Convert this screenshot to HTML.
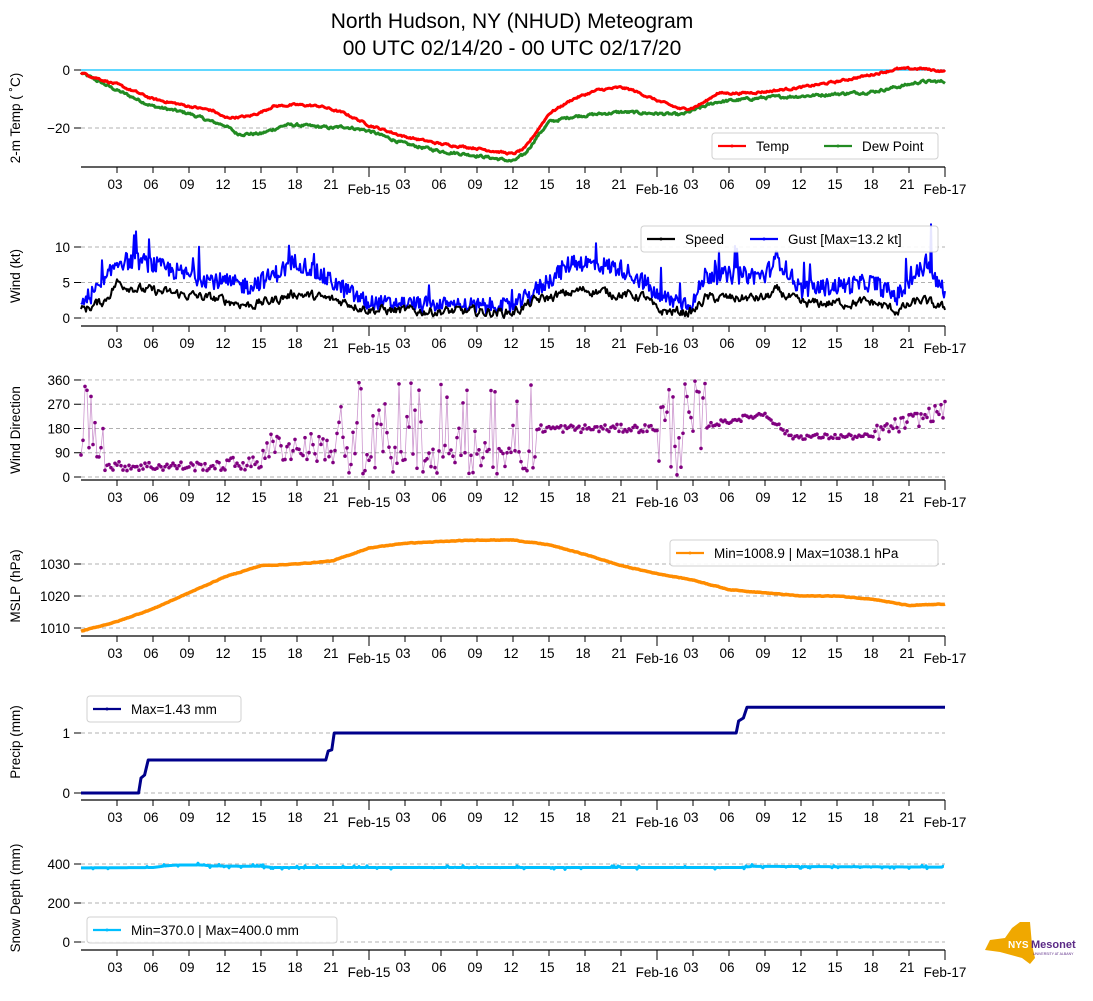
<!DOCTYPE html>
<html><head><meta charset="utf-8"><style>
body{margin:0;background:#fff;}
svg{display:block;font-family:"Liberation Sans","DejaVu Sans",sans-serif;}
</style></head><body>
<svg id="s" width="1093" height="1001" xmlns="http://www.w3.org/2000/svg">
<text x="512" y="28" font-size="21" text-anchor="middle">North Hudson, NY (NHUD) Meteogram</text>
<text x="512" y="55" font-size="21" text-anchor="middle">00 UTC 02/14/20 - 00 UTC 02/17/20</text>
</svg>
<script>
var S=document.getElementById('s'),NS='http://www.w3.org/2000/svg';
function el(t,a,txt){var e=document.createElementNS(NS,t);for(var k in a)e.setAttribute(k,a[k]);if(txt!=null)e.textContent=txt;S.appendChild(e);return e;}
var seed=12345;function rnd(){seed=(seed*1103515245+12345)%2147483648;return seed/2147483648;}
function X(h){return 81+h*12;}
function interp(kp,h){for(var i=1;i<kp.length;i++){if(h<=kp[i][0]){var a=kp[i-1],b=kp[i];return a[1]+(b[1]-a[1])*(h-a[0])/(b[0]-a[0]);}}return kp[kp.length-1][1];}
function series(kp,step,noise){var o=[];var n=0;for(var h=0;h<=72.001;h+=step){n=n*0.6+(rnd()-0.5)*noise;o.push([h,interp(kp,h)+n]);}return o;}
function line(pts,Y,col,w,op){var d='';pts.forEach(function(p,i){d+=(i?'L':'M')+X(p[0]).toFixed(1)+','+Y(p[1]).toFixed(1);});el('path',{d:d,fill:'none',stroke:col,'stroke-width':w,'stroke-linejoin':'round',opacity:op||1});}
function axis(yb,ticks,Y,label,ly){
 ticks.forEach(function(t){var y=Y(t);el('line',{x1:81,x2:945,y1:y,y2:y,stroke:'#b0b0b0','stroke-dasharray':'4,3','stroke-width':0.9});
  el('line',{x1:74,x2:81,y1:y,y2:y,stroke:'#000','stroke-width':1});
  el('text',{x:70,y:y+5,'font-size':13.5,'text-anchor':'end'},t<0?'\u2212'+(-t):t);});
 el('line',{x1:81,x2:945,y1:yb,y2:yb,stroke:'#000','stroke-width':1.2});
 for(var h=3;h<=72;h+=3){var maj=h%24==0;el('line',{x1:X(h),x2:X(h),y1:yb,y2:yb+(maj?10:6),stroke:'#000','stroke-width':1});
  if(maj){el('text',{x:X(h),y:yb+27,'font-size':13.5,'text-anchor':'middle'},['','Feb-15','Feb-16','Feb-17'][h/24]);}
  else el('text',{x:X(h)-2,y:yb+22,'font-size':13.5,'text-anchor':'middle'},('0'+(h%24)).slice(-2));}
 el('text',{x:0,y:0,'font-size':13.5,'text-anchor':'middle',transform:'translate(20,'+ly+') rotate(-90)'},label);
}
function legend(x,y,w,items){el('rect',{x:x,y:y,width:w,height:26,rx:3,fill:'#fff',stroke:'#ccc','stroke-width':1,opacity:0.9});
 items.forEach(function(it){el('line',{x1:it[0],x2:it[0]+28,y1:y+13,y2:y+13,stroke:it[2],'stroke-width':2.2});el('circle',{cx:it[0]+14,cy:y+13,r:1.5,fill:it[2]});el('text',{x:it[0]+38,y:y+18,'font-size':13.5},it[1]);});}
// Panel 1 temp
var Y1=function(v){return 70-v*2.9;};
axis(167,[0,-20],Y1,'2-m Temp ( \u02daC)',118);
el('line',{x1:81,x2:945,y1:70,y2:70,stroke:'#00bfff','stroke-width':1.3});
var T=[[0,-1],[3,-5],[6,-10],[9,-12.5],[11,-14],[12,-16.5],[14,-16],[15,-14.5],[16,-12.5],[18,-12],[20,-12.5],[22,-15],[24,-19],[27,-23],[30,-25.5],[33,-27],[36,-29],[37,-27],[38,-21],[39,-15],[41,-10],[43,-7],[45,-6],[46,-7],[48,-10.5],[50,-13.5],[51,-13],[52,-11],[53,-8],[55,-8],[57,-7.5],[60,-6],[63,-4],[66,-1.5],[68,0.3],[70,0.5],[72,-0.5]];
var D=[[0,-1],[3,-7],[6,-12.5],[9,-15],[11,-18],[12,-19],[13,-22],[15,-22],[17,-19],[18,-19],[21,-20],[22,-19.5],[24,-21],[27,-25.5],[30,-28],[33,-29.5],[36,-31.5],[37,-29],[38,-23],[39,-18],[41,-16],[45,-14.5],[48,-15],[50,-15.5],[51,-14],[53,-11],[57,-9.5],[60,-9],[66,-7.5],[69,-5],[70,-4],[72,-4]];
line(series(D,1/12,0.8),Y1,'#228b22',3);line(series(T,1/12,0.6),Y1,'#ff0000',3);
legend(712,133,226,[[718,'Temp','#ff0000'],[824,'Dew Point','#228b22']]);
// Panel 2 wind
var Y2=function(v){return 318-v*7.1;};
axis(326,[0,5,10],Y2,'Wind (kt)',276);
var SP=[[0,1],[2,2.5],[3,5],[5,4],[9,3.2],[12,2.5],[14,1.8],[16,2.5],[18,3.5],[20,2.8],[22,2.3],[24,1.2],[27,1],[36,0.8],[38,2.5],[42,4],[45,3.3],[47,3],[48,1],[51,0.8],[52,2.8],[57,2.8],[58,3.8],[60,2],[66,2.2],[68,1],[70,2.5],[72,1.3]];
var sp=series(SP,1/12,1.1).map(function(p){return [p[0],Math.max(0,p[1])];});
var GU=[[0,2],[2,5],[3,8],[5,8],[9,6],[12,5],[14,4.5],[16,6],[18,8],[20,6],[22,4],[24,2],[36,1.5],[38,4],[41,8],[45,7],[47,5],[48,3],[51,2],[52,6],[57,6],[58,8.5],[60,4],[66,5],[68,3],[70,7],[72,4]];
var gu=sp.map(function(p){var g=interp(GU,p[0])+(rnd()-0.5)*2.5;if(rnd()<0.03)g+=2+rnd()*2;return [p[0],Math.max(p[1]+0.3,Math.min(g,13.2))];});
gu[850]=[gu[850][0],13.2];
line(gu,Y2,'#0000ff',2);line(sp,Y2,'#000',2);
legend(641,226,297,[[647,'Speed','#000'],[750,'Gust [Max=13.2 kt]','#0000ff']]);
// Panel 3 dir
var Y3=function(v){return 477-v*0.2695;};
axis(480,[0,90,180,270,360],Y3,'Wind Direction',430);
var dp=[];for(var h=0;h<=72;h+=1/6){var v;
 if(h<2)v=rnd()<0.3?150+rnd()*200:60+rnd()*80;else if(h<12)v=40+(rnd()-0.5)*35;else if(h<15)v=50+(rnd()-0.5)*50;else if(h<21)v=110+(rnd()-0.5)*110;
 else if(h<38)v=rnd()<0.6?10+rnd()*100:80+rnd()*280;else if(h<48)v=180+(rnd()-0.5)*30;else if(h<52)v=rnd()*360;
 else if(h<57)v=190+(h-52)*9+(rnd()-0.5)*20;else if(h<59)v=235-(h-57)*40+(rnd()-0.5)*20;else if(h<66)v=150+(rnd()-0.5)*20;else v=160+(h-66)*15+(rnd()-0.5)*60;
 dp.push([h,Math.max(0,Math.min(360,v))]);}
line(dp,Y3,'#9b30a0',0.8,0.5);
dp.forEach(function(p){el('circle',{cx:X(p[0]),cy:Y3(p[1]),r:1.8,fill:'#800080'});});
// Panel 4 MSLP
var Y4=function(v){return 628-(v-1010)*3.2;};
axis(636,[1010,1020,1030],Y4,'MSLP (hPa)',586);
var P=[[0,1009],[3,1012],[6,1016],[9,1021],[12,1026],[15,1029.5],[18,1030],[21,1031],[24,1035],[27,1036.5],[33,1037.5],[36,1037.5],[39,1036],[42,1033],[45,1029.5],[48,1027],[51,1025],[54,1022],[57,1021],[60,1020],[63,1020],[66,1019],[69,1017],[72,1017.5]];
line(series(P,1/12,0.15),Y4,'#ff8c00',3.5);
legend(670,540,268,[[676,'Min=1008.9 | Max=1038.1 hPa','#ff8c00']]);
// Panel 5 precip
var Y5=function(v){return 793-v*60;};
axis(800,[0,1],Y5,'Precip (mm)',742);
var PR=[[0,0],[4.8,0],[5,0.25],[5.3,0.3],[5.6,0.55],[20.4,0.55],[20.6,0.7],[20.9,0.72],[21.1,1],[54.6,1],[54.8,1.2],[55.2,1.25],[55.5,1.43],[72,1.43]];
line(PR,Y5,'#00008b',3);
legend(87,696,154,[[93,'Max=1.43 mm','#00008b']]);
// Panel 6 snow
var Y6=function(v){return 942-v*0.195;};
axis(950,[0,200,400],Y6,'Snow Depth (mm)',898);
var SN=[[0,380],[6,382],[7,390],[8,395],[10,395],[11,390],[15,388],[16,382],[55,382],[56,388],[72,384]];
var sn=[];for(var h=0;h<=72;h+=1/12){var v=interp(SN,h);if(rnd()<0.1)v+=(rnd()-0.5)*20;sn.push([h,v]);}
line(sn,Y6,'#00bfff',3);
legend(87,917,250,[[93,'Min=370.0 | Max=400.0 mm','#00bfff']]);
// logo
el('path',{d:'M985,950 L990,940 L1005,938 L1012,928 L1020,922 L1030,922 L1032,945 L1035,958 L1030,964 L1022,958 L1000,952 Z',fill:'#f0a800'});
el('text',{x:1008,y:948,'font-size':10,'font-weight':'bold',fill:'#fff'},'NYS');
el('text',{x:1031,y:948,'font-size':11,'font-weight':'bold',fill:'#5b2a86'},'Mesonet');
el('text',{x:1033,y:955,'font-size':3.5,fill:'#5b2a86'},'UNIVERSITY AT ALBANY');
</script>
</body></html>
